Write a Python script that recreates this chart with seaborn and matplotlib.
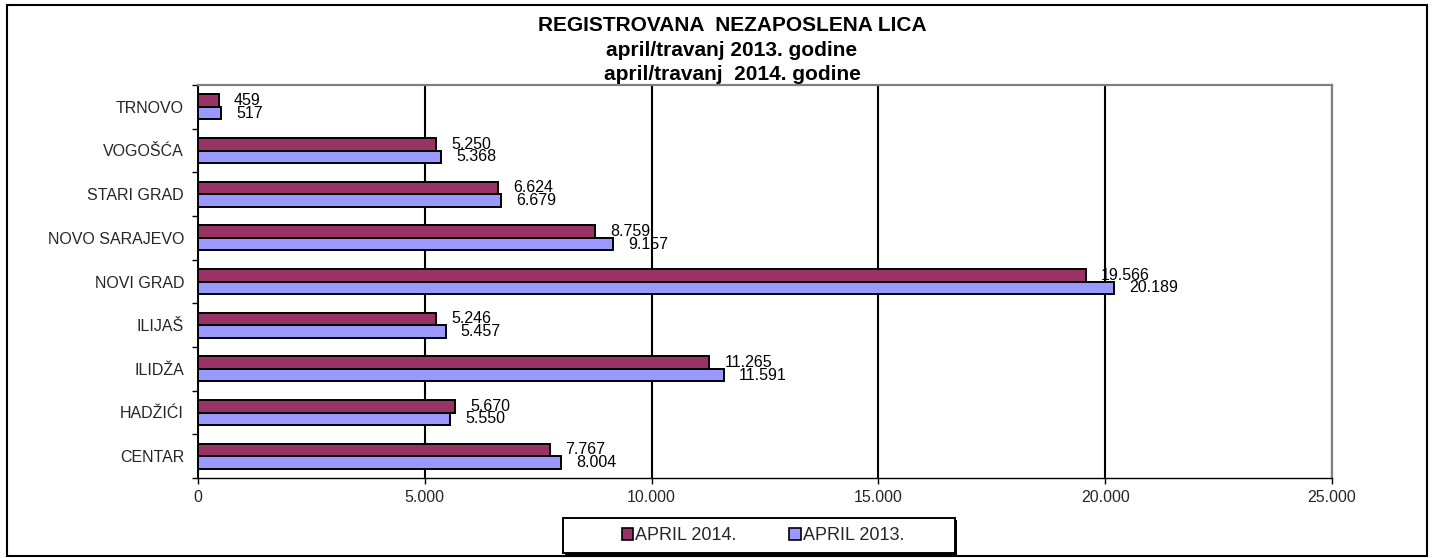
import matplotlib
matplotlib.use("Agg")
import matplotlib.pyplot as plt
import seaborn as sns
import pandas as pd
from matplotlib.patches import Patch, Rectangle

# ---------------- data ----------------
categories = ["TRNOVO", "VOGOŠĆA", "STARI GRAD", "NOVO SARAJEVO", "NOVI GRAD",
              "ILIJAŠ", "ILIDŽA", "HADŽIĆI", "CENTAR"]
april_2014 = [459, 5250, 6624, 8759, 19566, 5246, 11265, 5670, 7767]
april_2013 = [517, 5368, 6679, 9157, 20189, 5457, 11591, 5550, 8004]
series_names = ["APRIL 2014.", "APRIL 2013."]
series_colors = ["#993366", "#9999FF"]
x_ticks = [0, 5000, 10000, 15000, 20000, 25000]
title_lines = ["REGISTROVANA  NEZAPOSLENA LICA",
               "april/travanj 2013. godine",
               "april/travanj  2014. godine"]


def fmt(v):
    return f"{v:,}".replace(",", ".")


df = pd.DataFrame({
    "opstina": categories * 2,
    "vrijednost": april_2014 + april_2013,
    "serija": [series_names[0]] * len(categories) + [series_names[1]] * len(categories),
})

sns.set_style("white")
plt.rcParams["font.family"] = ["Liberation Sans", "DejaVu Sans"]

W, H = 1436, 558
fig = plt.figure(figsize=(W / 100, H / 100), dpi=100)
ax = fig.add_axes([198 / W, 1 - 478 / H, (1332 - 198) / W, (478 - 85) / H])

sns.barplot(data=df, x="vrijednost", y="opstina", hue="serija",
            order=categories, hue_order=series_names, palette=series_colors,
            saturation=1, width=0.575, edgecolor="black", linewidth=1.4,
            orient="h", legend=False, ax=ax, zorder=3)

for cont, vals in zip(ax.containers, [april_2014, april_2013]):
    ax.bar_label(cont, labels=[fmt(v) for v in vals], padding=11,
                 fontsize=11.5, color="black")

ax.set_xlim(0, 25000)
ax.set_ylim(len(categories) - 0.5, -0.5)
ax.set_xticks(x_ticks)
ax.set_xticklabels([fmt(t) for t in x_ticks], fontsize=11.5)
ax.set_yticks(range(len(categories)))
ax.set_yticklabels(categories, fontsize=11.5)
ax.set_yticks([i + 0.5 for i in range(-1, len(categories))], minor=True)
ax.tick_params(axis="y", which="major", length=0, pad=10)
ax.tick_params(axis="y", which="minor", length=4, width=1, color="black", direction="out", left=True)
ax.tick_params(axis="x", which="major", length=4, width=1, color="black", direction="out",
               bottom=True, pad=5)
ax.set_xlabel("")
ax.set_ylabel("")

ax.grid(axis="x", color="black", linewidth=1.5)
ax.grid(axis="y", visible=False)
ax.set_axisbelow(True)

for side in ["top", "right"]:
    ax.spines[side].set_visible(True)
    ax.spines[side].set_color("#808080")
    ax.spines[side].set_linewidth(1.6)
ax.spines["left"].set_color("black")
ax.spines["left"].set_linewidth(1.4)
ax.spines["bottom"].set_color("black")
ax.spines["bottom"].set_linewidth(1.0)

# title
baselines = [31, 56.5, 80]
for line, yb in zip(title_lines, baselines):
    fig.text(732 / W, 1 - yb / H, line, ha="center", va="baseline",
             fontsize=15, fontweight="bold", color="black")

# legend
handles = [Patch(facecolor=c, edgecolor="black", linewidth=1.2, label=s)
           for c, s in zip(series_colors, series_names)]
fig.legend(handles=handles, loc="center", bbox_to_anchor=(763 / W, 1 - 536 / H),
           ncol=2, frameon=False, fontsize=13, handlelength=0.65, handleheight=0.65,
           handletextpad=0.12, columnspacing=2.9, borderpad=0.2)
# legend box with shadow
fig.patches.append(Rectangle((565 / W, 1 - 555 / H), (392) / W, (35) / H,
                             transform=fig.transFigure, facecolor="black",
                             edgecolor="none", zorder=0.5))
fig.patches.append(Rectangle((563 / W, 1 - 553 / H), (392) / W, (35) / H,
                             transform=fig.transFigure, facecolor="white",
                             edgecolor="black", linewidth=1.4, zorder=0.6))

# outer border
fig.patches.append(Rectangle((7 / W, 1 - 556 / H), 1420 / W, 551 / H,
                             transform=fig.transFigure, facecolor="none",
                             edgecolor="black", linewidth=1.5, zorder=0.4))

fig.savefig("out.png", dpi=100)
